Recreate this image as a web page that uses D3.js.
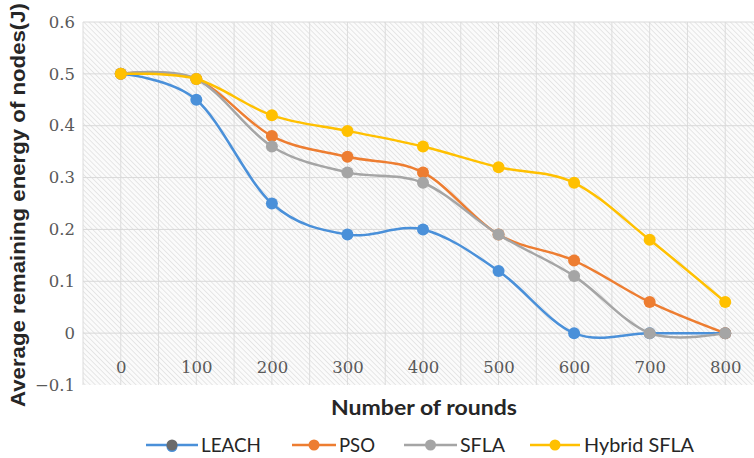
<!DOCTYPE html>
<html><head><meta charset="utf-8">
<script src="https://cdn.jsdelivr.net/npm/d3@7"></script>
<style>body{margin:0;background:#fff}svg{display:block}</style>
</head><body>
<svg id="c" width="754" height="458"></svg>
<script>
const rounds = ["0","100","200","300","400","500","600","700","800"];
const leach  = [0.50, 0.45, 0.25, 0.19, 0.20, 0.12, 0.00, 0.00, 0.00];
const pso    = [0.50, 0.49, 0.38, 0.34, 0.31, 0.19, 0.14, 0.06, 0.00];
const sfla   = [0.50, 0.49, 0.36, 0.31, 0.29, 0.19, 0.11, 0.00, 0.00];
const hybrid = [0.50, 0.49, 0.42, 0.39, 0.36, 0.32, 0.29, 0.18, 0.06];
const seriesNames = ["LEACH","PSO","SFLA","Hybrid SFLA"];
const yTicks = [-0.1,0,0.1,0.2,0.3,0.4,0.5,0.6];

const series = [
  {name: seriesNames[0], values: leach,  color: "#4A90D9"},
  {name: seriesNames[1], values: pso,    color: "#ED7D31"},
  {name: seriesNames[2], values: sfla,   color: "#A5A5A5"},
  {name: seriesNames[3], values: hybrid, color: "#FFC000"}
];

const svg = d3.select("#c");
const L = 83, R = 763, T = 22, B = 385;
const x = d3.scalePoint().domain(rounds).range([L, R]).padding(0.5);
const y = d3.scaleLinear().domain([-0.1, 0.6]).range([B, T]);

// hatch pattern
const defs = svg.append("defs");
const pat = defs.append("pattern").attr("id","hatch").attr("patternUnits","userSpaceOnUse")
  .attr("width",3.6).attr("height",3.6).attr("patternTransform","rotate(-45)");
pat.append("rect").attr("width",3.6).attr("height",3.6).attr("fill","#fbfbfb");
pat.append("line").attr("x1",0).attr("y1",0).attr("x2",0).attr("y2",3.6)
  .attr("stroke","#e2e2e2").attr("stroke-width",1.6);

svg.append("rect").attr("x",L).attr("y",T).attr("width",R-L).attr("height",B-T).attr("fill","url(#hatch)");

// vertical gridlines: at categories and between them
const step = x.step();
const vgrid = [];
rounds.forEach(r => { vgrid.push(x(r) - step/2); vgrid.push(x(r)); });
vgrid.push(x(rounds[rounds.length-1]) + step/2);
svg.append("g").selectAll("line").data(vgrid).join("line")
  .attr("x1",d=>d).attr("x2",d=>d).attr("y1",T).attr("y2",B)
  .attr("stroke","#dcdcdc").attr("stroke-width",1);

// horizontal gridlines
svg.append("g").selectAll("line").data(yTicks.filter(v=>v>-0.1)).join("line")
  .attr("x1",L).attr("x2",R).attr("y1",d=>y(d)).attr("y2",d=>y(d))
  .attr("stroke","#d9d9d9").attr("stroke-width",1);

// y axis labels
const yAxis = d3.axisLeft(y).tickValues(yTicks).tickSize(0).tickPadding(0)
  .tickFormat(d => d === 0 ? "0" : d3.format(".1f")(d));
const gy = svg.append("g").attr("transform",`translate(75,0)`).call(yAxis);
gy.select(".domain").remove();
gy.selectAll("text").attr("font-family","DejaVu Serif").attr("font-size",16.5).attr("fill","#595959");

// x labels
const xAxis = d3.axisBottom(x).tickSize(0).tickPadding(0);
const gx = svg.append("g").attr("transform",`translate(0,361)`).call(xAxis);
gx.select(".domain").remove();
gx.selectAll("text").attr("font-family","DejaVu Serif").attr("font-size",16.5).attr("fill","#595959");

// lines
const line = d3.line().x((d,i)=>x(rounds[i])).y(d=>y(d)).curve(d3.curveCardinal.tension(0));
series.forEach(s => {
  const g = svg.append("g");
  g.append("path").datum(s.values).attr("d",line).attr("fill","none")
    .attr("stroke",s.color).attr("stroke-width",2.5);
  g.selectAll("circle").data(s.values).join("circle")
    .attr("cx",(d,i)=>x(rounds[i])).attr("cy",d=>y(d)).attr("r",6).attr("fill",s.color);
});

// axis titles
svg.append("text").attr("x",424).attr("y",415).attr("text-anchor","middle")
  .attr("font-family","Lato").attr("font-weight","bold").attr("font-size",20)
  .attr("fill","#262626").attr("textLength",186).attr("lengthAdjust","spacingAndGlyphs")
  .text("Number of rounds");
svg.append("text").attr("transform","translate(25,205) rotate(-90)").attr("text-anchor","middle")
  .attr("font-family","Liberation Sans").attr("font-weight","bold").attr("font-size",20)
  .attr("fill","#262626").attr("textLength",404).attr("lengthAdjust","spacingAndGlyphs")
  .text("Average remaining energy of nodes(J)");

// legend
const legendItems = [
  {lx1:146, lx2:198, tx:201, tw:60, marker:"#6B6B6B"},
  {lx1:292, lx2:336, tx:339, tw:36, marker:null},
  {lx1:404, lx2:457, tx:460, tw:45, marker:null},
  {lx1:530, lx2:580, tx:584, tw:110, marker:null}
];
const ly = 445;
const lg = svg.append("g");
series.forEach((s,i) => {
  const it = legendItems[i];
  lg.append("line").attr("x1",it.lx1).attr("x2",it.lx2).attr("y1",ly).attr("y2",ly)
    .attr("stroke",s.color).attr("stroke-width",2.5);
  const cx = (it.lx1+it.lx2)/2;
  if (it.marker) {
    lg.append("circle").attr("cx",cx).attr("cy",ly+1.5).attr("r",5.5).attr("fill",s.color);
    lg.append("circle").attr("cx",cx).attr("cy",ly).attr("r",5.5).attr("fill",it.marker);
  } else {
    lg.append("circle").attr("cx",cx).attr("cy",ly).attr("r",5.5).attr("fill",s.color);
  }
  lg.append("text").attr("x",it.tx).attr("y",ly+7).attr("font-family","Lato")
    .attr("font-size",20).attr("fill","#262626")
    .attr("textLength",it.tw).attr("lengthAdjust","spacingAndGlyphs").text(s.name);
});
</script>
</body></html>
